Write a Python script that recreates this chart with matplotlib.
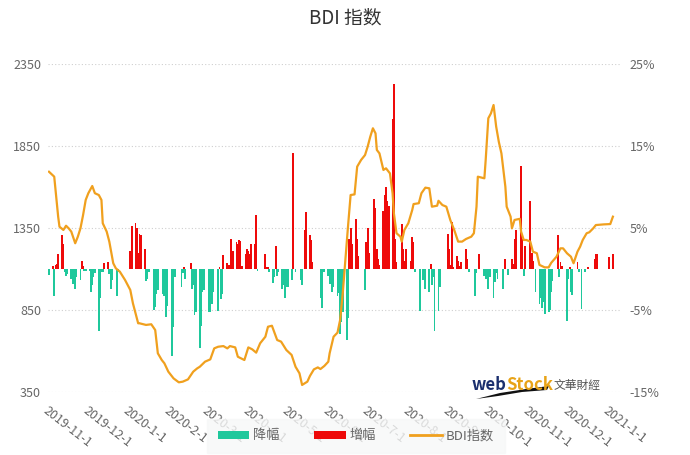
import matplotlib
matplotlib.use('Agg')
import matplotlib.pyplot as plt
import pandas as pd
from matplotlib.patches import Patch, Polygon
from matplotlib.lines import Line2D

plt.rcParams['font.family'] = ['Noto Sans CJK SC', 'DejaVu Sans']

# BDI index (left axis)
line_dates = [
    '2019-11-01', '2019-11-05', '2019-11-08', '2019-11-09', '2019-11-12', '2019-11-14', '2019-11-16',
    '2019-11-18', '2019-11-21', '2019-11-23', '2019-11-25', '2019-11-27', '2019-11-29', '2019-12-01',
    '2019-12-04', '2019-12-06', '2019-12-09', '2019-12-11', '2019-12-12', '2019-12-15', '2019-12-17',
    '2019-12-20', '2019-12-22', '2019-12-25', '2019-12-29', '2020-01-02', '2020-01-04', '2020-01-06',
    '2020-01-08', '2020-01-09', '2020-01-14', '2020-01-18', '2020-01-21', '2020-01-23', '2020-01-26',
    '2020-01-28', '2020-01-31', '2020-02-04', '2020-02-08', '2020-02-11', '2020-02-15', '2020-02-19',
    '2020-02-22', '2020-02-24', '2020-02-28', '2020-03-03', '2020-03-06', '2020-03-09', '2020-03-13',
    '2020-03-16', '2020-03-18', '2020-03-22', '2020-03-24', '2020-03-29', '2020-04-01', '2020-04-04',
    '2020-04-07', '2020-04-10', '2020-04-14', '2020-04-16', '2020-04-19', '2020-04-23', '2020-04-26',
    '2020-04-30', '2020-05-04', '2020-05-07', '2020-05-10', '2020-05-12', '2020-05-16', '2020-05-18',
    '2020-05-21', '2020-05-24', '2020-05-26', '2020-05-29', '2020-06-01', '2020-06-02', '2020-06-05',
    '2020-06-08', '2020-06-10', '2020-06-12', '2020-06-16', '2020-06-18', '2020-06-21', '2020-06-23',
    '2020-06-26', '2020-06-29', '2020-07-01', '2020-07-03', '2020-07-05', '2020-07-07', '2020-07-08',
    '2020-07-10', '2020-07-13', '2020-07-15', '2020-07-18', '2020-07-20', '2020-07-21', '2020-07-23',
    '2020-07-26', '2020-07-27', '2020-07-29', '2020-08-01', '2020-08-04', '2020-08-05', '2020-08-09',
    '2020-08-11', '2020-08-14', '2020-08-17', '2020-08-19', '2020-08-23', '2020-08-24', '2020-08-27',
    '2020-08-30', '2020-09-02', '2020-09-05', '2020-09-08', '2020-09-11', '2020-09-14', '2020-09-18',
    '2020-09-20', '2020-09-22', '2020-09-23', '2020-09-25', '2020-09-28', '2020-09-29', '2020-10-01',
    '2020-10-03', '2020-10-05', '2020-10-07', '2020-10-09', '2020-10-11', '2020-10-14', '2020-10-15',
    '2020-10-18', '2020-10-19', '2020-10-21', '2020-10-25', '2020-10-26', '2020-10-28', '2020-10-30',
    '2020-11-02', '2020-11-04', '2020-11-07', '2020-11-09', '2020-11-13', '2020-11-16', '2020-11-18',
    '2020-11-22', '2020-11-25', '2020-11-27', '2020-11-30', '2020-12-03', '2020-12-05', '2020-12-08',
    '2020-12-10', '2020-12-12', '2020-12-15', '2020-12-17', '2020-12-20', '2020-12-22', '2020-12-28',
    '2021-01-02', '2021-01-04',
]
line_vals = [
    1693, 1663, 1419, 1358, 1338, 1364, 1348,
    1328, 1257, 1297, 1348, 1429, 1521, 1562,
    1606, 1562, 1551, 1521, 1379, 1328, 1267,
    1135, 1104, 1084, 1033, 972, 891, 830,
    769, 769, 759, 763, 728, 586, 545,
    525, 474, 433, 409, 413, 427, 474,
    494, 504, 535, 549, 616, 626, 630,
    616, 630, 622, 565, 545, 622, 610,
    590, 647, 687, 748, 754, 667, 657,
    606, 576, 504, 464, 393, 413, 448,
    488, 500, 490, 509, 535, 586, 687,
    712, 789, 952, 1358, 1551, 1555, 1724,
    1765, 1795, 1846, 1907, 1958, 1927, 1826,
    1805, 1704, 1714, 1683, 1562, 1440, 1318,
    1297, 1267, 1338, 1379, 1460, 1496, 1501,
    1562, 1596, 1592, 1480, 1486, 1516, 1490,
    1480, 1399, 1338, 1267, 1267, 1283, 1297,
    1318, 1480, 1663, 1659, 1653, 1765, 2019,
    2049, 2100, 1968, 1876, 1805, 1602, 1480,
    1419, 1348, 1399, 1406, 1328, 1277, 1277,
    1267, 1206, 1196, 1125, 1110, 1110, 1138,
    1175, 1226, 1226, 1196, 1175, 1135, 1206,
    1236, 1277, 1318, 1324, 1348, 1368, 1372,
    1374, 1419,
]

# daily change in % (right axis), one value per business day
bar_pct = [
    # 2019-11
    -0.7, 0.4, -3.3, 0.5, 0.6, 1.8, 4.1, 3.0, -0.4, -0.9, -0.6, -1.2, -1.8, -0.8, -2.4, -1.0,
    -1.4, 1.0, 0.4, -0.3, -0.2,
    # 2019-12
    -0.3, -2.8, -2.0, -1.0, -0.5, -7.5, -3.5, -0.4, -0.4, 0.7, 0.9, -0.6, -2.4, -1.4, 0,
    -3.3, -0.4, 0, 0, 0, 0, 0,
    # 2020-01
    0, 2.2, 5.3, 5.6, 5.0, 2.0, 4.3, 4.1, 2.4, -1.5, -1.2, -0.4, 0, -5.0, -4.6, -3.0, -2.6, 0,
    -3.0, -3.3, -5.8, -4.5, 0,
    # 2020-02
    -10.6, -7.1, -1.0, 0, 0, -2.2, -0.5, 0.3, -1.2, 0, 0.7, -2.4, -2.0, -5.6, -5.2,
    -9.6, -6.9, -2.8, -2.5, 0,
    # 2020-03
    -5.3, -5.2, -4.3, -2.8, 0, -5.1, 0.2, -3.7, -3.0, 1.7, 0.7, 0.5, 0, 3.7, 2.2,
    3.3, 3.1, 3.5, 3.4, 0.4, 1.8, 2.4,
    # 2020-04
    2.2, 1.8, 3.0, 3.0, 6.6, -0.2, 0, 0, 0, 1.8, 0.3, 0.3, -0.4, -1.7, -1.0, 2.8, -0.8, -0.4,
    -2.4, -2.0, -3.5, -2.2,
    # 2020-05
    -2.2, -1.4, 14.2, 0, -0.4, 0, -1.3, -2.0, 0, 4.7, 6.9, 4.1, 3.5, 0.8, 0, 0,
    0, -3.5, -4.7, 0, -0.4,
    # 2020-06
    -0.8, -1.8, -1.4, -2.8, -2.2, -3.3, -2.9, -7.9, -6.5, -5.3, -8.7, -6.0, 3.7, 5.0, 3.0,
    6.1, 3.7, 1.6, 0, 0, -2.6, 3.3,
    # 2020-07
    5.0, 2.0, 0, 8.5, 7.4, 2.4, 1.2, 0.5, 7.1, 9.0, 10.0, 8.3, 7.7, 18.3, 22.6, 3.7, 0.8, 0,
    5.5, 2.5, 1.0, 2.5, 0,
    # 2020-08
    1.0, 3.9, 3.3, -0.4, 0, -5.1, 0, -1.4, -1.0, -2.4, -2.8, 0.6, -2.0, -1.0, -7.5,
    -5.1, -2.2, 0, 0, 0, 4.3,
    # 2020-09
    2.4, 0.5, 5.7, 0.3, 1.6, 1.0, 0.4, 0.9, 0, 2.4, 1.2, -0.4, 0, 0,
    -3.3, -0.5, 0, 1.8, 0, -0.8, -1.2, -0.4,
    # 2020-10
    -2.4, -1.0, -3.5, -1.6, -0.5, -1.2, 0, -2.4, 0, 1.2, 0, -0.7, 1.2, 0.6, 3.7, 4.7, 0,
    12.6, 3.7, -0.8, 2.8, 0,
    # 2020-11
    8.3, 2.0, 1.0, 0, -2.8, -4.3, -3.5, -4.7, -4.0, -5.5, -5.3, -5.0, -2.8, -1.5, 0,
    4.1, -1.0, 0.8, 0.4, 0, -6.3,
    # 2020-12
    -1.2, 0.2, -2.8, -3.2, 0, 0.9, -0.4, 0, -4.9, -0.4, 0, 0.2, 0, 0,
    1.2, 1.8, 1.8, 0, 0, 0, 0, 0, 0,
    # 2021-01
    1.5, 1.8,
]
bar_dates = pd.bdate_range('2019-11-01', '2021-01-04')

tick_dates = pd.date_range('2019-11-01', '2021-01-01', freq='MS')
tick_labels = ['2019-11-1', '2019-12-1', '2020-1-1', '2020-2-1', '2020-3-1', '2020-4-1',
               '2020-5-1', '2020-6-1', '2020-7-1', '2020-8-1', '2020-9-1', '2020-10-1',
               '2020-11-1', '2020-12-1', '2021-1-1']

left_ticks = [350, 850, 1350, 1850, 2350]
right_ticks = [-15, -5, 5, 15, 25]

RED = '#ee0a0a'
GREEN = '#1fc89c'
ORANGE = '#f0a01e'
GREY = '#666666'

fig = plt.figure(figsize=(6.9, 4.55), dpi=100)
ax = fig.add_axes([48 / 690, 1 - 392 / 455, 572 / 690, 328 / 455])
ax2 = ax.twinx()
ax.set_zorder(ax2.get_zorder() + 1)
ax.patch.set_visible(False)

# bars
colors = [RED if v >= 0 else GREEN for v in bar_pct]
ax2.bar(bar_dates, bar_pct, width=1.4, color=colors, linewidth=0, zorder=2)

# line
ax.plot(pd.to_datetime(line_dates), line_vals, color=ORANGE, lw=1.6, zorder=3)

ax.set_ylim(350, 2350)
ax.set_yticks(left_ticks)
ax2.set_ylim(-15, 25)
ax2.set_yticks(right_ticks)
ax2.set_yticklabels([f'{t}%' for t in right_ticks])
ax.set_xlim(pd.Timestamp('2019-10-31 06:00'), pd.Timestamp('2021-01-09 10:00'))

ax2.set_axisbelow(True)
ax2.grid(axis='y', linestyle=(0, (1, 2)), color='#cfcfcf', lw=0.8)

ax.set_xticks(tick_dates)
ax.set_xticklabels(tick_labels, rotation=-38, ha='left', va='top', rotation_mode='anchor')

for a in (ax, ax2):
    for s in a.spines.values():
        s.set_visible(False)
ax.tick_params(axis='x', length=0, pad=9, labelsize=9, labelcolor=GREY)
ax.tick_params(axis='y', length=0, pad=5, labelsize=9, labelcolor=GREY)
ax2.tick_params(axis='y', length=0, pad=7, labelsize=9, labelcolor=GREY)

fig.text(0.5, 1 - 18 / 455, 'BDI 指数', ha='center', va='center', fontsize=13.5, color='#333333')

# watermark: "web" + "Stock" glued together, then the company name
t_web = fig.text(472 / 690, 1 - 390 / 455, 'web', ha='left', va='baseline', fontsize=12,
                 fontweight='bold', color='#1b2f6e')
stock = fig.text(0, 0, 'Stock', ha='left', va='baseline', fontsize=12, fontweight='bold',
                 color='#e8a317')
swoosh = Polygon([(476 / 690, 1 - 399 / 455), (500 / 690, 1 - 393 / 455), (526 / 690, 1 - 389 / 455),
                  (549 / 690, 1 - 386 / 455), (547 / 690, 1 - 390 / 455), (522 / 690, 1 - 392 / 455),
                  (498 / 690, 1 - 396 / 455)], closed=True, facecolor='#111111', edgecolor='none',
                 transform=fig.transFigure)
fig.add_artist(swoosh)
fig.text(554 / 690, 1 - 385 / 455, '文華財經', ha='left', va='center', fontsize=8.5, color='#555555')

handles = [Patch(facecolor=GREEN, edgecolor='none'),
           Patch(facecolor=RED, edgecolor='none'),
           Line2D([0], [0], color=ORANGE, lw=2)]
leg = fig.legend(handles, ['降幅', '增幅', 'BDI指数'], loc='center', ncol=3,
                 bbox_to_anchor=(356 / 690, 1 - 436 / 455), frameon=True, fontsize=9.5,
                 handlelength=2.4, handleheight=0.6, columnspacing=2.6, handletextpad=0.3,
                 borderpad=0.8, fancybox=False)
leg.get_frame().set_facecolor('#f7f8f8')
leg.get_frame().set_edgecolor('#f7f8f8')
for t in leg.get_texts():
    t.set_color(GREY)

# measure "web" and put "Stock" right behind it
fig.canvas.draw()
web_box = t_web.get_window_extent().transformed(fig.transFigure.inverted())
stock.set_position((web_box.x1 - 1 / 690, 1 - 390 / 455))

assert len(bar_pct) == len(bar_dates)
fig.savefig('out.png', dpi=100)
